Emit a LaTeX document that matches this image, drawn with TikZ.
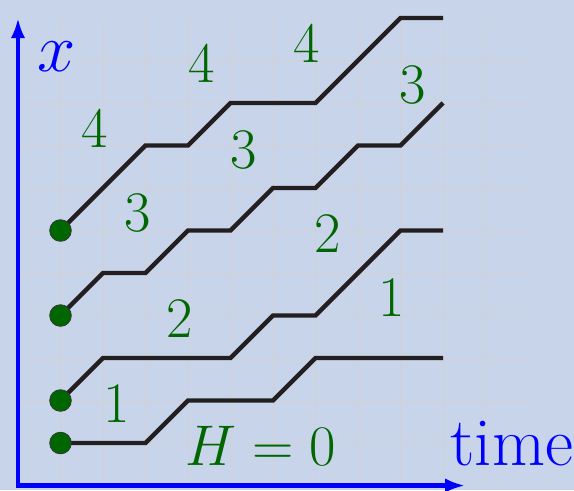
\RequirePackage{fix-cm}
\documentclass[tikz,border=0pt]{standalone}
\usetikzlibrary{arrows.meta}
\definecolor{bgblue}{RGB}{200,212,234}
\definecolor{gridgray}{RGB}{208,208,214}
\definecolor{pathblack}{RGB}{35,31,32}
\definecolor{lblgreen}{RGB}{0,102,0}
\tikzset{
  trajectory/.style={draw=pathblack, line width=2.9pt},
  startdot/.style={circle, fill=lblgreen, draw=black!80, line width=0.5pt, minimum size=0.51cm, inner sep=0pt},
  numlabel/.style={text=lblgreen, font=\fontsize{38.4}{46}\selectfont, inner sep=0pt},
  axislabel/.style={text=blue, font=\fontsize{46}{55}\selectfont, inner sep=0pt},
  axisline/.style={draw=blue, line width=2.8pt, {Latex[length=13.4pt,width=9.6pt]}-{Latex[length=13.4pt,width=9.6pt]}},
  gridline/.style={draw=gridgray, line width=0.6pt}
}
\begin{document}
\begin{tikzpicture}
\fill[bgblue] (-0.4235,-0.106) rectangle (13.082,11.424);
\useasboundingbox (-0.4235,-0.106) rectangle (13.082,11.424);
% grid
\foreach \i in {1,...,11} \draw[gridline] (\i,0) -- (\i,11);
\foreach \j in {1,...,10} \draw[gridline] (0,\j) -- (12,\j);
% axes
\coordinate (ytip) at (0,11);
\coordinate (xtip) at (10.52,0);
\draw[axisline] (ytip) |- (xtip);
\node[axislabel] (xlab) at (0.92,10.08) {$x$};
\node[axislabel, anchor=base] (tlab) at (11.62,0.48) {time};
% start points
\coordinate (s1) at (1,1);
\coordinate (s2) at (1,2);
\coordinate (s3) at (1,4);
\coordinate (s4) at (1,6);
% trajectories
\draw[trajectory] (s1) -- (3,1) -- (4,2) -- (6,2) -- (7,3) -- (10,3);
\draw[trajectory] (s2) -- (2,3) -- (5,3) -- (6,4) -- (7,4) -- (9,6) -- (10,6);
\draw[trajectory] (s3) -- (2,5) -- (3,5) -- (4,6) -- (5,6) -- (6,7) -- (7,7) -- (8,8) -- (9,8) -- (10,9);
\draw[trajectory] (s4) -- (3,8) -- (4,8) -- (5,9) -- (7,9) -- (9,11) -- (10,11);
\node[startdot] (d1) at (s1) {};
\node[startdot] (d2) at (s2) {};
\node[startdot] (d3) at (s3) {};
\node[startdot] (d4) at (s4) {};
% labels
\node[numlabel] (l4a) at (1.81,8.41) {4};
\node[numlabel] (l4b) at (4.31,9.93) {4};
\node[numlabel] (l4c) at (6.80,10.41) {4};
\node[numlabel] (l3a) at (2.81,6.41) {3};
\node[numlabel] (l3b) at (5.32,7.89) {3};
\node[numlabel] (l3c) at (9.29,9.42) {3};
\node[numlabel] (l2a) at (3.81,3.93) {2};
\node[numlabel] (l2b) at (7.29,5.92) {2};
\node[numlabel] (l1a) at (2.31,1.93) {1};
\node[numlabel] (l1b) at (8.80,4.42) {1};
\node[numlabel] (h0) at (5.72,0.93) {$H=0$};
\end{tikzpicture}
\end{document}
